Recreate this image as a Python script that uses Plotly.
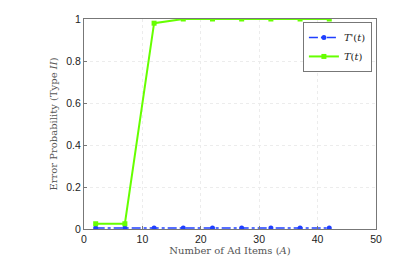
import plotly.graph_objects as go

ad_items = [2, 7, 12, 17, 22, 27, 32, 37, 42]
t_prime = [0.005, 0.005, 0.005, 0.005, 0.005, 0.005, 0.005, 0.005, 0.005]
t_vals = [0.025, 0.025, 0.98, 1.0, 1.0, 1.0, 1.0, 1.0, 1.0]
x_ticks = [0, 10, 20, 30, 40, 50]
y_ticks = [0, 0.2, 0.4, 0.6, 0.8, 1]
y_tick_text = ["0", "0.2", "0.4", "0.6", "0.8", "1"]

fig = go.Figure()
fig.add_trace(go.Scatter(
    x=ad_items, y=t_prime, name="<i>T'</i>(<i>t</i>)", mode="lines+markers",
    line=dict(color="#1f3fff", width=1.5, dash="dashdot"),
    marker=dict(symbol="circle", size=5, color="#1f3fff"),
))
fig.add_trace(go.Scatter(
    x=ad_items, y=t_vals, name="<i>T</i>(<i>t</i>)", mode="lines+markers",
    line=dict(color="#66ff00", width=2),
    marker=dict(symbol="square", size=5, color="#66ff00"),
))

axis_common = dict(
    showline=True, linecolor="#777777", linewidth=1, mirror=True,
    showgrid=True, gridcolor="#ececec", griddash="dot", gridwidth=1,
    zeroline=False, ticks="inside", ticklen=3, tickcolor="#777777",
    automargin=False,
    tickfont=dict(family="Liberation Sans, Arial", size=10.5, color="#222222"),
)
fig.update_xaxes(range=[0, 50], tickvals=x_ticks, **axis_common,
                 title=dict(text="Number of Ad Items (<i>A</i>)", standoff=0,
                            font=dict(family="DejaVu Serif, Liberation Serif", size=10, color="#555555")))
fig.update_yaxes(range=[0, 1], tickvals=y_ticks, ticktext=y_tick_text, **axis_common,
                 title=dict(text="Error Probability (Type <i>II</i>)", standoff=6,
                            font=dict(family="DejaVu Serif, Liberation Serif", size=10, color="#555555")))

fig.update_layout(
    width=407, height=251,
    margin=dict(l=76, r=39, t=11, b=30, autoexpand=False),
    paper_bgcolor="white", plot_bgcolor="white",
    showlegend=True,
    legend=dict(x=0.986, y=0.986, xanchor="right", yanchor="top",
                bgcolor="white", bordercolor="#777777", borderwidth=1,
                font=dict(family="DejaVu Serif, Liberation Serif", size=10, color="#222222"),
                tracegroupgap=0, itemwidth=30),
)
fig.write_html("out.html")
